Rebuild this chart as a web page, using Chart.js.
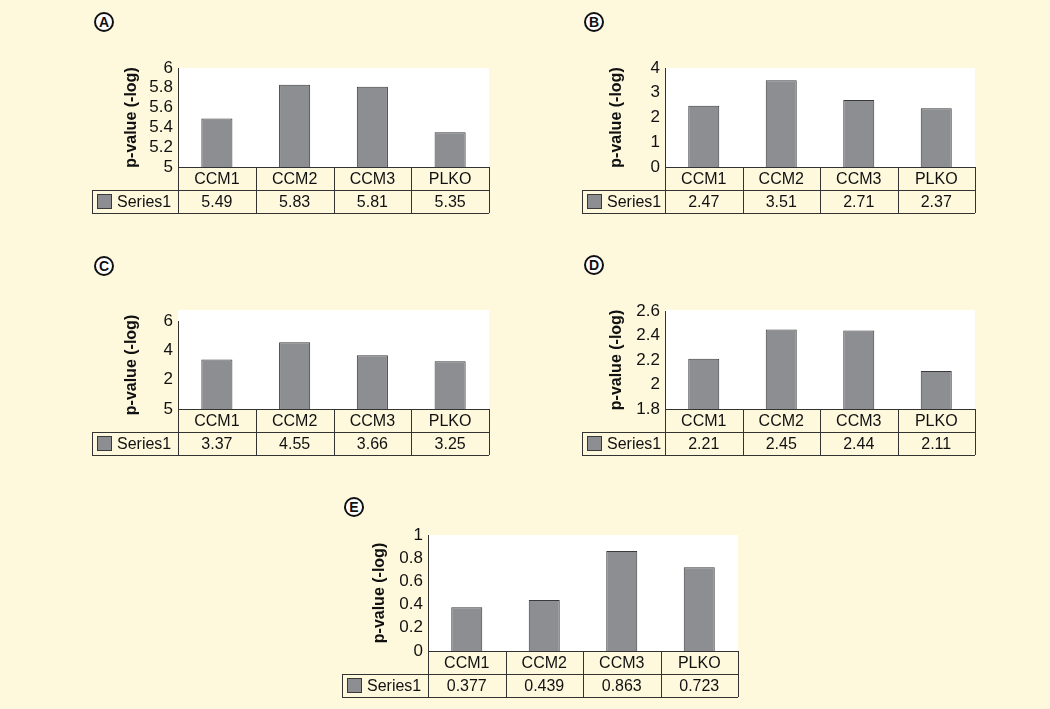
<!DOCTYPE html>
<html>
<head>
<meta charset="utf-8">
<script src="https://cdn.jsdelivr.net/npm/chart.js@4.4.1/dist/chart.umd.min.js"></script>
<style>
  html, body { margin: 0; padding: 0; width: 1050px; height: 709px; overflow: hidden;
               background: #fef9dd; font-family: "Liberation Sans", Arial, sans-serif; }
  canvas { position: absolute; }
  .letter { position: absolute; width: 16px; height: 16px; border: 2px solid #111; border-radius: 50%;
            background: #fff; color: #111; font: bold 14px "Liberation Sans", Arial, sans-serif;
            text-align: center; line-height: 16px; }
</style>
</head>
<body>
<script>
// ============================================
// DATA
// ============================================
const categories = ["CCM1", "CCM2", "CCM3", "PLKO"];
const seriesName = "Series1";
const axisTitle = "p-value (-log)";

const valuesA = [5.49, 5.83, 5.81, 5.35];
const valuesB = [2.47, 3.51, 2.71, 2.37];
const valuesC = [3.37, 4.55, 3.66, 3.25];
const valuesD = [2.21, 2.45, 2.44, 2.11];
const valuesE = [0.377, 0.439, 0.863, 0.723];

// tick labels bottom to top (panel C really prints "5" at the zero line)
const ticksA = ["5", "5.2", "5.4", "5.6", "5.8", "6"];
const ticksB = ["0", "1", "2", "3", "4"];
const ticksC = ["5", "2", "4", "6"];
const ticksD = ["1.8", "2", "2.2", "2.4", "2.6"];
const ticksE = ["0", "0.2", "0.4", "0.6", "0.8", "1"];

// ============================================
// LAYOUT — where each panel sits on the page
// ============================================
const PANELS = [
  { letter: "A", values: valuesA, ticks: ticksA, min: 5,   max: 6,   step: 0.2,
    tableLeft: 92,  plotLeft: 178, plotRight: 489, plotTop: 68,  plotBottom: 167, whiteExtra: 0,
    titleX: 132, badge: [104, 22] },
  { letter: "B", values: valuesB, ticks: ticksB, min: 0,   max: 4,   step: 1,
    tableLeft: 582, plotLeft: 665, plotRight: 975, plotTop: 68,  plotBottom: 167, whiteExtra: 0,
    titleX: 617, badge: [594, 22] },
  { letter: "C", values: valuesC, ticks: ticksC, min: 0,   max: 6,   step: 2,
    tableLeft: 92,  plotLeft: 178, plotRight: 489, plotTop: 321, plotBottom: 409, whiteExtra: 11,
    titleX: 132, badge: [104, 266] },
  { letter: "D", values: valuesD, ticks: ticksD, min: 1.8, max: 2.6, step: 0.2,
    tableLeft: 582, plotLeft: 665, plotRight: 975, plotTop: 311, plotBottom: 409, whiteExtra: 1,
    titleX: 617, badge: [594, 265] },
  { letter: "E", values: valuesE, ticks: ticksE, min: 0,   max: 1,   step: 0.2,
    tableLeft: 342, plotLeft: 428, plotRight: 738, plotTop: 535, plotBottom: 651, whiteExtra: 0,
    titleX: 380, badge: [354, 507] },
];

const ROW_H = 23;
const PAD_TOP = 14;
const FONT = "'Liberation Sans', Arial, sans-serif";
const BAR_FILL = "#8d8e92";
const BAR_EDGE = "#3a3a3a";
const LINE = "#333";

// ============================================
// PLUGIN — white plot area + data table below the bars
// ============================================
const tablePlugin = {
  id: "dataTable",
  beforeDraw(chart, args, opts) {
    const { ctx, chartArea: a } = chart;
    ctx.save();
    ctx.fillStyle = "#fff";
    ctx.fillRect(a.left, a.top - opts.whiteExtra, a.right - a.left, a.bottom - a.top + opts.whiteExtra);
    ctx.restore();
  },
  afterDraw(chart, args, opts) {
    const { ctx, chartArea: a, scales: { x } } = chart;
    const px = v => Math.round(v) + 0.5;
    const y0 = a.bottom, y1 = y0 + ROW_H, y2 = y1 + ROW_H;
    const n = categories.length;

    ctx.save();
    ctx.strokeStyle = LINE;
    ctx.lineWidth = 1;
    ctx.beginPath();
    ctx.moveTo(a.left, px(y0)); ctx.lineTo(a.right, px(y0));
    ctx.moveTo(opts.tableLeft, px(y1)); ctx.lineTo(a.right, px(y1));
    ctx.moveTo(opts.tableLeft, px(y2)); ctx.lineTo(a.right, px(y2));
    ctx.moveTo(px(opts.tableLeft), y1); ctx.lineTo(px(opts.tableLeft), y2);
    for (let i = 0; i <= n; i++) {
      const bx = px(x.getPixelForValue(i - 0.5));
      ctx.moveTo(bx, y0); ctx.lineTo(bx, y2);
    }
    ctx.stroke();

    // texts
    ctx.fillStyle = "#111";
    ctx.font = "16px " + FONT;
    ctx.textAlign = "center";
    ctx.textBaseline = "middle";
    categories.forEach((c, i) => {
      const cx = x.getPixelForValue(i);
      ctx.fillText(c, cx, (y0 + y1) / 2 + 1);
      ctx.fillText(String(opts.values[i]), cx, (y1 + y2) / 2 + 1);
    });

    // legend key in the series row
    const sx = opts.tableLeft + 5, sy = y1 + 4;
    ctx.fillStyle = BAR_FILL;
    ctx.fillRect(sx, sy, 15, 15);
    ctx.strokeStyle = BAR_EDGE;
    ctx.strokeRect(sx + 0.5, sy + 0.5, 14, 14);
    ctx.fillStyle = "#111";
    ctx.textAlign = "left";
    ctx.fillText(seriesName, sx + 20, (y1 + y2) / 2 + 1);
    ctx.restore();
  }
};

// ============================================
// CHARTS
// ============================================
function drawPanel(p) {
  const left = p.tableLeft - 3;
  const top = p.plotTop - PAD_TOP;
  const width = p.plotRight - left + 4;
  const height = (p.plotBottom - top) + 2 * ROW_H + 4;

  const badge = document.createElement("div");
  badge.className = "letter";
  badge.textContent = p.letter;
  badge.style.left = (p.badge[0] - 10) + "px";
  badge.style.top = (p.badge[1] - 10) + "px";
  document.body.appendChild(badge);

  const canvas = document.createElement("canvas");
  canvas.width = width;
  canvas.height = height;
  canvas.style.left = left + "px";
  canvas.style.top = top + "px";
  document.body.appendChild(canvas);

  const yWidth = p.plotLeft - left;
  const titlePad = p.titleX - left - 9.6;

  new Chart(canvas, {
    type: "bar",
    data: {
      labels: categories,
      datasets: [{
        label: seriesName,
        data: p.values,
        backgroundColor: BAR_FILL,
        borderColor: BAR_EDGE,
        borderWidth: 1,
        categoryPercentage: 1,
        barPercentage: 0.4,
      }]
    },
    options: {
      responsive: false,
      animation: false,
      layout: { padding: { left: 0, top: PAD_TOP, right: 4, bottom: 2 * ROW_H + 4 } },
      plugins: {
        legend: { display: false },
        tooltip: { enabled: false },
        dataTable: { values: p.values, tableLeft: p.tableLeft - left, whiteExtra: p.whiteExtra },
      },
      scales: {
        x: { display: false },
        y: {
          min: p.min, max: p.max,
          grid: { display: false, drawTicks: false },
          border: { display: true, color: LINE, width: 1 },
          ticks: {
            stepSize: p.step, padding: 5, color: "#111", autoSkip: false,
            font: { family: FONT, size: 17, lineHeight: 1 },
            callback: (v, i) => p.ticks[i],
          },
          title: {
            display: true, text: axisTitle, color: "#111",
            font: { family: FONT, size: 16, weight: "bold" },
            padding: { top: titlePad, bottom: 0 },
          },
          afterFit: s => { s.width = yWidth; },
        }
      }
    },
    plugins: [tablePlugin]
  });
}

PANELS.forEach(drawPanel);
</script>
</body>
</html>
